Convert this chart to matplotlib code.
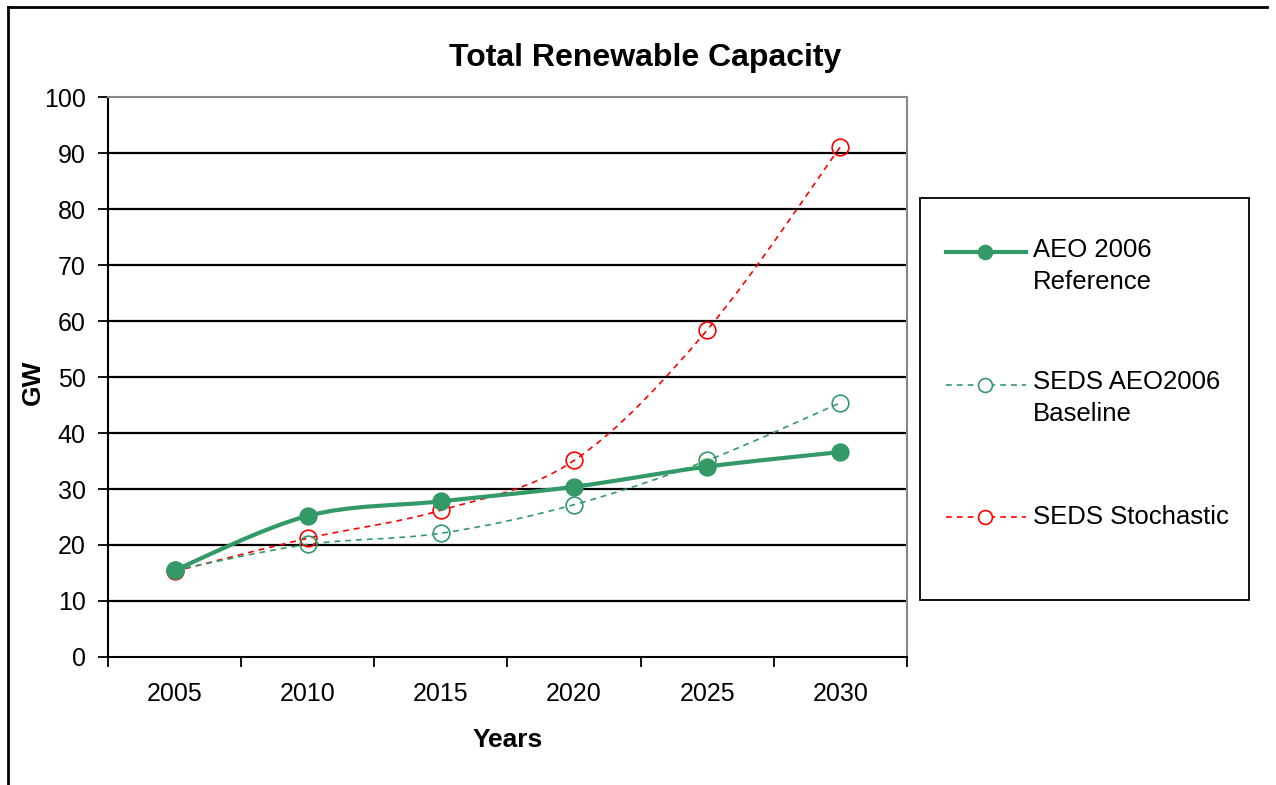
import numpy as np
import matplotlib
matplotlib.use("Agg")
import matplotlib.pyplot as plt
from matplotlib.path import Path
from matplotlib.patches import PathPatch, Rectangle
from matplotlib.lines import Line2D

plt.rcParams['font.family'] = ['Liberation Sans', 'DejaVu Sans']

years = ["2005", "2010", "2015", "2020", "2025", "2030"]
aeo_ref = [15.5, 25.2, 27.8, 30.4, 34.0, 36.6]
seds_base = [15.5, 20.1, 22.1, 27.2, 35.1, 45.4]
seds_stoch = [15.3, 21.2, 26.2, 35.1, 58.4, 91.1]
labels = ["AEO 2006\nReference", "SEDS AEO2006\nBaseline", "SEDS Stochastic"]

green = "#339966"
red = "#FF0000"

W, H = 1276, 785
fig = plt.figure(figsize=(W / 100, H / 100), dpi=100)
ax = fig.add_axes([108 / W, 1 - 657 / H, (907 - 108) / W, (657 - 97) / H])


def smooth_path(x, y):
    # excel style smoothed line: cubic bezier through the points
    pts = np.column_stack([x, y]).astype(float)
    n = len(pts)
    verts = [pts[0]]
    codes = [Path.MOVETO]
    for i in range(n - 1):
        p0 = pts[i - 1] if i > 0 else pts[i]
        p1 = pts[i]
        p2 = pts[i + 1]
        p3 = pts[i + 2] if i + 2 < n else pts[i + 1]
        c1 = p1 + (p2 - p0) / 6
        c2 = p2 - (p3 - p1) / 6
        verts += [c1, c2, p2]
        codes += [Path.CURVE4] * 3
    return Path(verts, codes)


x = np.arange(len(years))
series = [
    (aeo_ref, green, '-', 3.0, green),
    (seds_base, green, (0, (3.5, 3)), 1.2, 'none'),
    (seds_stoch, red, (0, (3.5, 3)), 1.2, 'none'),
]
for vals, col, ls, lw, fc in series[::-1]:
    ax.add_patch(PathPatch(smooth_path(x, vals), fill=False, edgecolor=col,
                           linestyle=ls, linewidth=lw, zorder=3))
    ax.plot(x, vals, linestyle='none', marker='o', markersize=12,
            markerfacecolor=fc, markeredgecolor=col, markeredgewidth=1.2, zorder=4)

ax.set_xlim(-0.5, 5.5)
ax.set_ylim(0, 100)
ax.set_yticks(range(0, 101, 10))
ax.set_xticks(x)
ax.set_xticklabels(years)
ax.set_xticks(np.arange(-0.5, 6, 1), minor=True)
ax.tick_params(axis='x', which='major', length=0, pad=18, labelsize=18)
ax.tick_params(axis='x', which='minor', length=7, width=1.3, direction='out')
ax.tick_params(axis='y', length=7, width=1.3, direction='out', pad=9, labelsize=18)

for v in range(10, 100, 10):
    ax.axhline(v, color='black', linewidth=1.6, zorder=1)
ax.spines['left'].set_linewidth(1.5)
ax.spines['bottom'].set_linewidth(1.5)
ax.spines['top'].set_color('#888888')
ax.spines['right'].set_color('#888888')
ax.spines['top'].set_linewidth(1.5)
ax.spines['right'].set_linewidth(1.5)

ax.set_xlabel("Years", fontsize=19, fontweight='bold')
ax.xaxis.set_label_coords(0.5, (657 - 740) / 560)
ax.xaxis.label.set_va('center')
ax.set_ylabel("GW", fontsize=19, fontweight='bold')
ax.yaxis.set_label_coords((33 - 108) / 799, (657 - 382) / 560)
ax.yaxis.label.set_va('center')
fig.text(645 / W, 1 - 58 / H, "Total Renewable Capacity", fontsize=23,
         fontweight='bold', ha='center', va='center')

# legend box drawn by hand to match the spacing
fig.patches.append(Rectangle((920 / W, 1 - 600 / H), 329 / W, 402 / H,
                             transform=fig.transFigure, fill=False,
                             edgecolor='black', linewidth=1.3))
handle_y = [252, 385, 517]
text_y = [266, 398, 517]
for (vals, col, ls, lw, fc), lab, hy, ty in zip(series, labels, handle_y, text_y):
    fig.add_artist(Line2D([946 / W, 1026 / W], [1 - hy / H, 1 - hy / H],
                          transform=fig.transFigure, color=col, linestyle=ls,
                          linewidth=lw))
    fig.add_artist(Line2D([985 / W], [1 - hy / H], transform=fig.transFigure,
                          linestyle='none', marker='o', markersize=10,
                          markerfacecolor='white' if fc == 'none' else fc,
                          markeredgecolor=col, markeredgewidth=1.2))
    fig.text(1033 / W, 1 - ty / H, lab, fontsize=18.5, ha='left', va='center',
             linespacing=1.4)

# outer chart border (left and top only visible)
fig.add_artist(Line2D([8 / W, 8 / W], [0, 1 - 7 / H], transform=fig.transFigure,
                      color='black', linewidth=2))
fig.add_artist(Line2D([8 / W, 1267 / W], [1 - 7 / H, 1 - 7 / H],
                      transform=fig.transFigure, color='black', linewidth=2))

fig.savefig("out.png", dpi=100)
